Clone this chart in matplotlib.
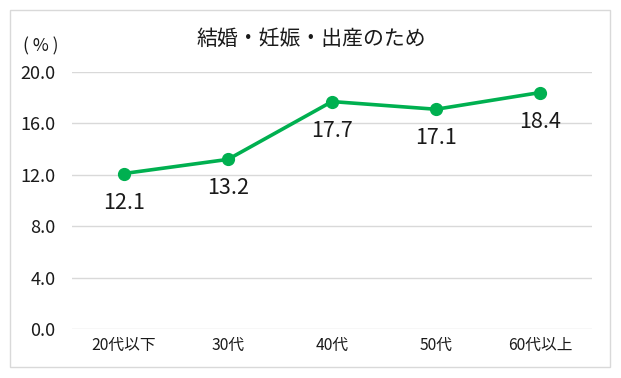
import matplotlib
matplotlib.use('Agg')
import matplotlib.pyplot as plt
from matplotlib.patches import Rectangle

plt.rcParams['font.family'] = ['Noto Sans CJK JP', 'DejaVu Sans']

categories = ['20代以下', '30代', '40代', '50代', '60代以上']
values = [12.1, 13.2, 17.7, 17.1, 18.4]
yticks = [0.0, 4.0, 8.0, 12.0, 16.0, 20.0]
title = '結婚・妊娠・出産のため'

W, H = 621, 378
fig = plt.figure(figsize=(W / 100, H / 100), dpi=100)

# outer chart border
fig.patches.append(Rectangle((10 / W, 1 - 367 / H), 600 / W, 357 / H,
                             transform=fig.transFigure, fill=False,
                             edgecolor='#d9d9d9', linewidth=1))

ax = fig.add_axes([72 / W, 1 - 329 / H, 520 / W, 257 / H])
x = list(range(len(categories)))
ax.plot(x, values, color='#00b050', linewidth=2.6, marker='o',
        markersize=8.5, zorder=3)
for xi, v in zip(x, values):
    ax.annotate(f'{v:.1f}', (xi, v), xytext=(0, -13), textcoords='offset points',
                ha='center', va='top', fontsize=15.5, color='#1a1a1a')

ax.set_xlim(-0.5, len(categories) - 0.5)
ax.set_ylim(0, 20)
ax.set_yticks(yticks)
ax.set_yticklabels([f'{t:.1f}' for t in yticks], fontsize=13, color='#1a1a1a')
ax.set_xticks(x)
ax.set_xticklabels(categories, fontsize=11.3, color='#1a1a1a')
ax.tick_params(length=0)
ax.tick_params(axis='y', pad=12)
ax.tick_params(axis='x', pad=6)
ax.grid(axis='y', color='#d9d9d9', linewidth=1)
ax.set_axisbelow(True)
for s in ax.spines.values():
    s.set_visible(False)

fig.text(311 / W, 1 - 39 / H, title, ha='center', va='center',
         fontsize=15, color='#1a1a1a')
fig.text(41 / W, 1 - 46 / H, '( % )', ha='center', va='center',
         fontsize=12.5, color='#1a1a1a')

fig.savefig('out.png', dpi=100)
